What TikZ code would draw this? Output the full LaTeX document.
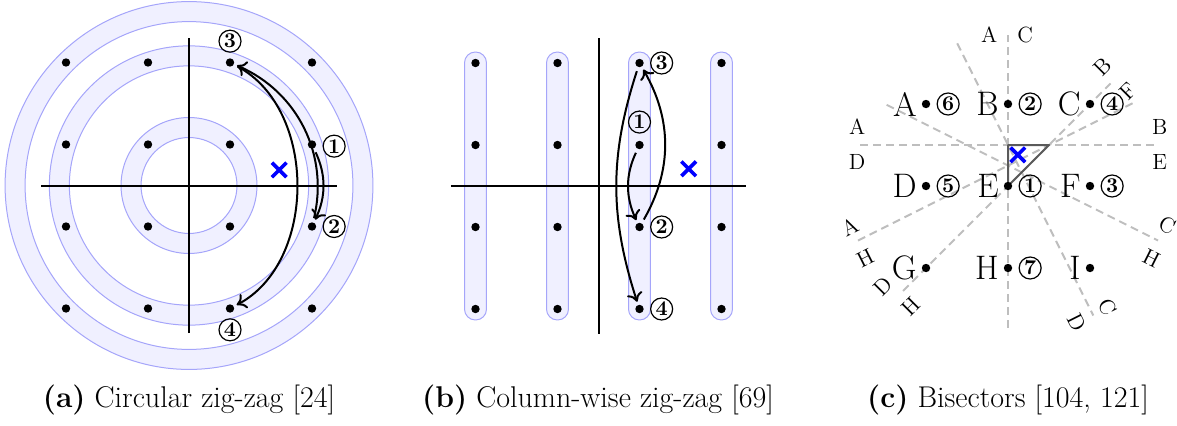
\documentclass[tikz,border=0pt]{standalone}
\usetikzlibrary{arrows.meta,shapes.misc,calc}
\definecolor{ringfill}{RGB}{240,240,255}
\definecolor{ringdraw}{RGB}{165,165,250}
\definecolor{bisect}{RGB}{190,190,190}
\definecolor{tri}{RGB}{90,90,90}
\begin{document}
\begin{tikzpicture}[x=0.5pt,y=0.5pt,
  dot/.style={circle,fill=black,inner sep=0pt,minimum size=4.2pt},
  num/.style={circle,draw,line width=0.6pt,inner sep=0pt,minimum size=11pt,font=\fontsize{10.5}{10.5}\selectfont\bfseries},
  axis/.style={line width=1pt},
  arr/.style={line width=1pt,-{To[length=4.5pt,width=8pt]},shorten <=2pt,shorten >=1.5pt},
  ring/.style={draw=ringdraw,line width=0.5pt},
  pill/.style={fill=ringfill,draw=ringdraw,line width=0.5pt,rounded corners=5.4pt},
  target/.style={cross out,draw=blue,line width=1.8pt,minimum size=5.5pt,inner sep=0pt},
  bis/.style={draw=bisect,line width=1pt,dash pattern=on 4pt off 2.5pt},
  blab/.style={font=\fontsize{11}{11}\selectfont,inner sep=0pt},
  biglet/.style={font=\fontsize{17}{17}\selectfont,inner sep=0pt,anchor=east},
  capt/.style={font=\fontsize{15}{15}\selectfont,anchor=base},
]
\useasboundingbox (0,0) rectangle (1177,425);

% ---------------- panel (a)
\begin{scope}[shift={(94.5pt,119.75pt)},x=41pt,y=41pt]
  \foreach \ri/\ro in {0.585/0.829,1.459/1.703,1.999/2.243}{
    \fill[ringfill,even odd rule] (0,0) circle (\ro) (0,0) circle (\ri);
    \draw[ring] (0,0) circle (\ro);
    \draw[ring] (0,0) circle (\ri);
  }
  \draw[axis] (-1.8,0) -- (1.8,0);
  \draw[axis] (0,-1.8) -- (0,1.8);
  \foreach \i/\x in {1/-1.5,2/-0.5,3/0.5,4/1.5}{
    \foreach \j/\y in {1/-1.5,2/-0.5,3/0.5,4/1.5}{
      \node[dot] (a\i\j) at (\x,\y) {};
    }
  }
  \node[target] (ax) at (1.10,0.19) {};
  \node[num] (an1) at (1.77,0.48) {1};
  \node[num] (an2) at (1.77,-0.5) {2};
  \node[num] (an3) at (0.5,1.76) {3};
  \node[num] (an4) at (0.5,-1.76) {4};
  \draw[arr] (a43) to[bend left=25] (a42);
  \draw[arr] (a42) to[bend right=40] (a34);
  \draw[arr] (a34) to[bend left=62] (a31);
\end{scope}

% ---------------- panel (b)
\begin{scope}[shift={(299.25pt,119.5pt)},x=41pt,y=41pt]
  \foreach \x in {-1.5,-0.5,0.5,1.5}{
    \draw[pill] (\x-0.134,-1.634) rectangle (\x+0.134,1.634);
  }
  \draw[axis] (-1.8,0) -- (1.8,0);
  \draw[axis] (0,-1.8) -- (0,1.8);
  \foreach \i/\x in {1/-1.5,2/-0.5,3/0.5,4/1.5}{
    \foreach \j/\y in {1/-1.5,2/-0.5,3/0.5,4/1.5}{
      \node[dot] (b\i\j) at (\x,\y) {};
    }
  }
  \node[target] (bx) at (1.10,0.21) {};
  \node[num] (bn1) at (0.5,0.78) {1};
  \node[num] (bn2) at (0.77,-0.5) {2};
  \node[num] (bn3) at (0.77,1.5) {3};
  \node[num] (bn4) at (0.77,-1.5) {4};
  \draw[arr] (b33) to[bend right=25] (b32);
  \draw[arr] (b32) to[bend right=30] (b34);
  \draw[arr] (b34) to[bend right=18] (b31);
\end{scope}

% ---------------- panel (c)
\begin{scope}[shift={(504pt,119.5pt)},x=41pt,y=41pt]
  \draw[bis] (-1.8,0.5) -- (1.78,0.5);
  \draw[bis] (0,-1.73) -- (0,1.84);
  \draw[bis] (-0.62,1.74) -- (1.04,-1.58);
  \draw[bis] (-1.48,0.99) -- (1.83,-0.665);
  \draw[bis] (-1.83,-0.665) -- (1.55,1.025);
  \draw[bis] (-1.28,-1.28) -- (1.25,1.25);
  % bisector labels
  \node[blab] (h1) at (-1.84,0.72) {A};
  \node[blab] (h2) at (-1.84,0.29) {D};
  \node[blab] (h3) at (1.85,0.72) {B};
  \node[blab] (h4) at (1.85,0.29) {E};
  \node[blab] (v1) at (-0.23,1.84) {A};
  \node[blab] (v2) at (0.21,1.84) {C};
  \node[blab,rotate=45] (p1) at (1.15,1.45) {B};
  \node[blab,rotate=45] (p2) at (1.46,1.15) {F};
  \node[blab,rotate=45] (p3) at (-1.53,-1.22) {D};
  \node[blab,rotate=45] (p4) at (-1.18,-1.47) {H};
  \node[blab,rotate=26.6] (q1) at (-1.93,-0.50) {A};
  \node[blab,rotate=26.6] (q2) at (-1.74,-0.88) {H};
  \node[blab,rotate=-26.6] (r1) at (1.94,-0.48) {C};
  \node[blab,rotate=-26.6] (r2) at (1.75,-0.88) {H};
  \node[blab,rotate=-63.4] (s1) at (1.22,-1.48) {C};
  \node[blab,rotate=-63.4] (s2) at (0.84,-1.66) {D};
  % triangle
  \coordinate (t1) at (0,0.5);
  \coordinate (t2) at (0.5,0.5);
  \coordinate (t0) at (0,0);
  \draw[draw=tri,line width=1pt,line join=round] (t0) -- (t1) -- (t2) -- cycle;
  \node[target] (cx) at (0.12,0.38) {};
  % dots
  \foreach \n/\x/\y in {A/-1/1,B/0/1,C/1/1,D/-1/0,E/0/0,F/1/0,G/-1/-1,H/0/-1,I/1/-1}{
    \node[dot] (c\n) at (\x,\y) {};
    \node[biglet] (l\n) at ($(c\n)+(-4.5pt,0)$) {\n};
  }
  \node[num] (cn6) at ($(cA)+(0.27,0)$) {6};
  \node[num] (cn2) at ($(cB)+(0.27,0)$) {2};
  \node[num] (cn4) at ($(cC)+(0.27,0)$) {4};
  \node[num] (cn5) at ($(cD)+(0.27,0)$) {5};
  \node[num] (cn1) at ($(cE)+(0.27,0)$) {1};
  \node[num] (cn3) at ($(cF)+(0.27,0)$) {3};
  \node[num] (cn7) at ($(cH)+(0.27,0)$) {7};
\end{scope}

% ---------------- captions
\node[capt] (capa) at (189,18) {\textbf{(a)} Circular zig-zag [24]};
\node[capt] (capb) at (598,18) {\textbf{(b)} Column-wise zig-zag [69]};
\node[capt] (capc) at (1008,18) {\textbf{(c)} Bisectors [104, 121]};
\end{tikzpicture}
\end{document}
